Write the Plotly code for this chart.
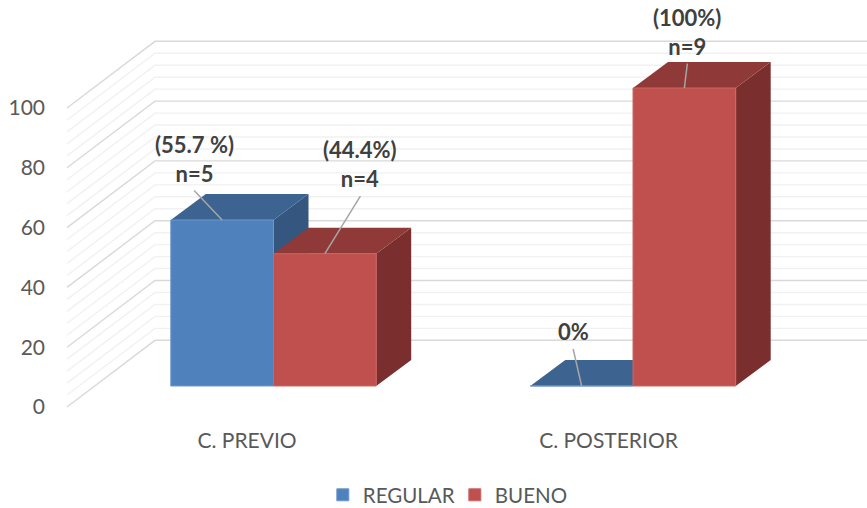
import plotly.graph_objects as go

# Chart values
categories = ["C. PREVIO", "C. POSTERIOR"]
regular = [55.7, 0]
bueno = [44.4, 100]
label_regular = ["<b>(55.7 %)<br>n=5</b>", "<b>0%</b>"]
label_bueno = ["<b>(44.4%)<br>n=4</b>", "<b>(100%)<br>n=9</b>"]
y_ticks = [0, 20, 40, 60, 80, 100]

# Colours
BLUE = ("#4F81BD", "#3D6491", "#34567F")   # front, top, side
RED = ("#C0504D", "#8F3A38", "#7A2F2E")
TEXT = "#595959"

# Figure geometry
W, H = 867, 508
LEFT, BOTTOM_PX = 50, 426
BAR = 1 / 3.5                 # bar width in category units
BAR_SPAN = 359.5              # pixels per category for the bars
BAR_ORIGIN = 273.5            # pixel of category 0 boundary between bars
BAR_SCALE, BAR_BASE = 2.98, 386
FLOOR_SPAN, FLOOR_ORIGIN = 361.5, 247
FLOOR_SCALE, FLOOR_BASE = 2.99, 407
DX = 35 / BAR_SPAN            # oblique depth of a bar
DY = 26 / BAR_SCALE

fig = go.Figure()

x_range_floor = [(LEFT - FLOOR_ORIGIN) / FLOOR_SPAN, (W - FLOOR_ORIGIN) / FLOOR_SPAN]
y_range_floor = [(FLOOR_BASE - BOTTOM_PX) / FLOOR_SCALE, FLOOR_BASE / FLOOR_SCALE]
x_range_bars = [(LEFT - BAR_ORIGIN) / BAR_SPAN, (W - BAR_ORIGIN) / BAR_SPAN]
y_range_bars = [(BAR_BASE - BOTTOM_PX) / BAR_SCALE, BAR_BASE / BAR_SCALE]


# Walls of the 3D box: side wall runs obliquely, back wall runs to the right
def wall_lines(values, right):
    front_x = (67 - FLOOR_ORIGIN) / FLOOR_SPAN
    back_x = (155 - FLOOR_ORIGIN) / FLOOR_SPAN
    xs, ys = [], []
    for v in values:
        xs += [front_x, back_x, right, None]
        ys += [v, v + 22.3, v + 22.3, None]
    return xs, ys


minor = [v for v in range(0, 101, 4) if v % 20]
for vals, colour in ((minor, "#F1F1F1"), (y_ticks, "#D9D9D9")):
    xs, ys = wall_lines(vals, x_range_floor[1])
    fig.add_trace(go.Scatter(x=xs, y=ys, mode="lines", showlegend=False, hoverinfo="skip",
                             line=dict(color=colour, width=1.4), xaxis="x", yaxis="y"))


def face(xs, ys, colour):
    fig.add_trace(go.Scatter(x=xs + xs[:1], y=ys + ys[:1], mode="lines", fill="toself",
                             fillcolor=colour, line=dict(width=0), showlegend=False,
                             hoverinfo="skip", xaxis="x2", yaxis="y2"))


# Top and side faces of each bar; blue goes first so the red faces overlap it
for i in range(len(categories)):
    for values, colours, x0 in ((regular, BLUE, i - BAR), (bueno, RED, i)):
        v = values[i]
        x1 = x0 + BAR
        face([x1, x1 + DX, x1 + DX, x1], [0, DY, v + DY, v], colours[2])
        face([x0, x1, x1 + DX, x0 + DX], [v, v, v + DY, v + DY], colours[1])

# Front faces
fig.add_trace(go.Bar(x=[0, 1], y=regular, name="REGULAR", marker=dict(color=BLUE[0], line=dict(color="#6E97CC", width=1)),
                     xaxis="x3", yaxis="y3", hoverinfo="skip"))
fig.add_trace(go.Bar(x=[0, 1], y=bueno, name="BUENO", marker=dict(color=RED[0], line=dict(color="#CB6663", width=1)),
                     xaxis="x3", yaxis="y3", hoverinfo="skip"))

# Leader lines and value labels, placed relative to the middle of each bar's top edge
leaders = [
    (0 - BAR / 2, regular[0], -28, 29.5, label_regular[0]),
    (0 + BAR / 2, bueno[0], 35.5, 57.5, label_bueno[0]),
    (1 - BAR / 2, regular[1], -8.5, 37, label_regular[1]),
    (1 + BAR / 2, bueno[1], 3, 24.5, label_bueno[1]),
]
annotations = []
for x, v, dx, dy, text in leaders:
    tip_x, tip_y = x + dx / BAR_SPAN, v + dy / BAR_SCALE
    fig.add_trace(go.Scatter(x=[x, tip_x], y=[v, tip_y], mode="lines", showlegend=False, hoverinfo="skip",
                             line=dict(color="#A6A6A6", width=1.5), xaxis="x3", yaxis="y3"))
    annotations.append(dict(x=tip_x, y=tip_y, xref="x3", yref="y3", text=text, showarrow=False,
                            xanchor="center", yanchor="bottom", yshift=2, align="center",
                            font=dict(family="Lato", size=22, color="#404040")))

fig.update_layout(
    width=W, height=H, autosize=False,
    margin=dict(l=LEFT, r=0, t=0, b=H - BOTTOM_PX),
    paper_bgcolor="white", plot_bgcolor="white",
    barmode="group", bargap=1 - 2 * BAR, bargroupgap=0,
    font=dict(family="Lato", color=TEXT, size=20),
    annotations=annotations,
    showlegend=True,
    legend=dict(orientation="h", x=0.4955, xref="paper", xanchor="center",
                yref="container", y=0.065, yanchor="top",
                font=dict(family="Lato", size=20.5, color=TEXT), itemwidth=30,
                entrywidth=87, entrywidthmode="pixels",
                traceorder="normal"),
    xaxis=dict(range=x_range_floor, tickvals=[0, 1], ticktext=categories, showgrid=False, zeroline=False,
               showline=False, ticks="", tickfont=dict(size=21, color=TEXT)),
    yaxis=dict(range=y_range_floor, tickvals=y_ticks, showgrid=False, zeroline=False, showline=False,
               ticks="", ticklabelstandoff=4, tickfont=dict(size=21, color=TEXT)),
    xaxis2=dict(range=x_range_bars, overlaying="x", visible=False),
    yaxis2=dict(range=y_range_bars, overlaying="y", visible=False),
    xaxis3=dict(range=x_range_bars, overlaying="x", visible=False),
    yaxis3=dict(range=y_range_bars, overlaying="y", visible=False),
)

fig.write_html("out.html", config=dict(displayModeBar=False))
